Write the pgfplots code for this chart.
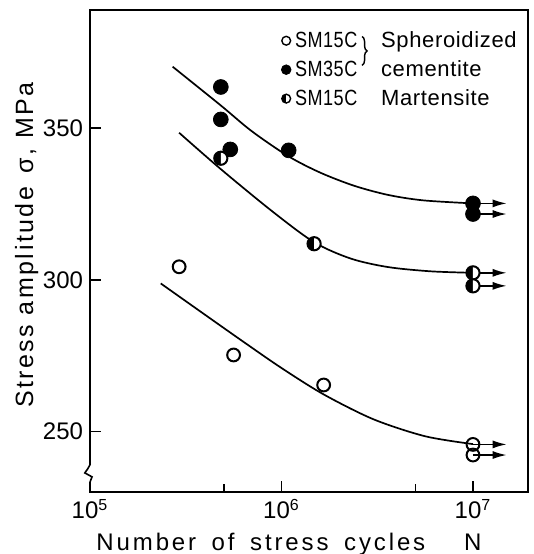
\documentclass[border=0pt]{standalone}
\usepackage{fontspec}
\setmainfont{Liberation Sans}
\newfontfamily\xlabfont[LetterSpace=12.0]{Liberation Sans}
\newfontfamily\ylabfont[LetterSpace=10.0]{Liberation Sans}
\newfontfamily\legfont[LetterSpace=3.0]{Liberation Sans}
\usepackage{pgfplots}
\pgfplotsset{compat=1.18}
\usetikzlibrary{arrows.meta,decorations.pathreplacing}
\newcommand{\sm}[1]{\makebox[43pt][l]{\scalebox{0.82}[1]{#1}}}

\begin{document}
\begin{tikzpicture}
\begin{axis}[
  scale only axis,
  width=219pt, height=241pt,
  xmode=log,
  xmin=1e5, xmax=1.94e7,
  ymin=230, ymax=389,
  clip=false,
  axis line style={line width=0.8pt},
  tick style={line width=0.8pt, black},
  tick align=inside,
  xtick pos=bottom, ytick pos=left,
  xtick={1e5,1e6,1e7},
  xticklabels={10\textsuperscript{5},10\textsuperscript{6},10\textsuperscript{7}},
  minor xtick={5e5,5e6},
  ytick={250,300,350},
  major tick length=5.5pt,
  minor tick length=4pt,
  tick label style={font=\fontsize{12}{14}\selectfont},
  /pgf/number format/assume math mode=true,
  xlabel={Number\hspace{3pt} of\hspace{3pt} stress\hspace{3pt} cycles},
  xlabel style={at={(axis description cs:0.39,-0.1203)}, anchor=base,
    font=\fontsize{12}{14}\xlabfont},
  ylabel={Stress amplitude\hspace{2pt} σ, MPa},
  ylabel style={at={(axis description cs:-0.1300,0.512)}, anchor=base,
    font=\fontsize{12.5}{14}\ylabfont},
  legend image code/.code={\draw[#1] plot coordinates {(0pt,0pt)};},
  legend style={at={(axis description cs:0.436,0.965)}, anchor=north west,
    draw=none, fill=none, inner sep=0pt, row sep=1pt,
    font=\fontsize{11}{13}\legfont, cells={anchor=west}},
]
% legend
\addlegendimage{only marks, mark=o, mark size=2.2pt, mark options={line width=0.7pt}}
\addlegendentry{\sm{SM15C}Spheroidized}
\addlegendimage{only marks, mark=*, mark size=2.4pt}
\addlegendentry{\sm{SM35C}cementite}
\addlegendimage{only marks, mark=halfcircle*, mark size=2.2pt, mark options={rotate=90, line width=0.7pt}}
\addlegendentry{\sm{SM15C}Martensite}

% fitted curves
\addplot[line width=0.85pt, smooth, forget plot] coordinates {
  (2.70e5,370.3) (4.8e5,357.6) (7e5,349.0) (1.09e6,340.7) (1.6e6,335.3)
  (2.4e6,331.0) (3.6e6,328.0) (5.5e6,326.2) (1e7,325.2)};
\addplot[line width=0.85pt, smooth, forget plot] coordinates {
  (2.92e5,348.5) (4.8e5,336.6) (8.9e5,322.7) (1.48e6,312.4) (2.3e6,307.0)
  (3.6e6,304.2) (6.0e6,302.8) (1e7,302.3)};
\addplot[line width=0.85pt, smooth, forget plot] coordinates {
  (2.34e5,298.8) (3.98e5,288.5) (6.31e5,279.6) (1e6,270.9) (1.66e6,262.2)
  (3.02e6,254.0) (5.62e6,248.4) (1e7,245.8)};

% run-outs
\foreach \yy in {325.2,321.7,302.3,298.0,245.7,242.2}{
  \edef\tmp{\noexpand\addplot[line width=0.8pt, -{Latex[length=7pt,width=4pt]}, forget plot]
    coordinates {(1e7,\yy) (1.5e7,\yy)};}
  \tmp
}

% SM35C spheroidized
\addplot[only marks, mark=*, mark size=3.7pt, forget plot] coordinates {
  (4.82e5,363.6) (4.82e5,352.9) (5.4e5,343.0) (1.09e6,342.7) (1e7,325.2) (1e7,321.7)};
% SM15C martensite
\addplot[only marks, mark=halfcircle*, mark size=3.3pt,
  mark options={rotate=90, line width=1pt, fill=black}, forget plot] coordinates {
  (4.82e5,340.1) (1.48e6,311.9) (1e7,302.3) (1e7,298.0)};
% SM15C spheroidized
\addplot[only marks, mark=o, mark size=3.2pt, mark options={line width=1pt, fill=white},
  forget plot] coordinates {
  (2.92e5,304.3) (5.62e5,275.2) (1.66e6,265.3) (1e7,245.7) (1e7,242.2)};

% brace in legend
\draw[line width=0.7pt, decorate, decoration={brace, amplitude=2.5pt}]
  (axis description cs:0.621,0.945) -- (axis description cs:0.621,0.885);

% axis break
\fill[white] ([xshift=-0.6pt]axis cs:1e5,239.0) rectangle ([xshift=0.6pt]axis cs:1e5,233.3);
\draw[line width=0.8pt] (axis cs:1e5,239.0) -- ([xshift=-1.2pt]axis cs:1e5,237.6)
  -- ([xshift=-2.6pt]axis cs:1e5,236.3) -- ([xshift=1pt]axis cs:1e5,235.0)
  -- (axis cs:1e5,233.3);

\node[anchor=base, font=\fontsize{12}{14}\xlabfont]
  at (axis description cs:0.874,-0.1203) {N};

\coordinate (bbll) at (axis description cs:-0.2055,-0.1286);
\coordinate (bbur) at (axis description cs:1.0114,1.0207);
\end{axis}
\pgfresetboundingbox
\useasboundingbox (bbll) rectangle (bbur);
\end{tikzpicture}
\end{document}
